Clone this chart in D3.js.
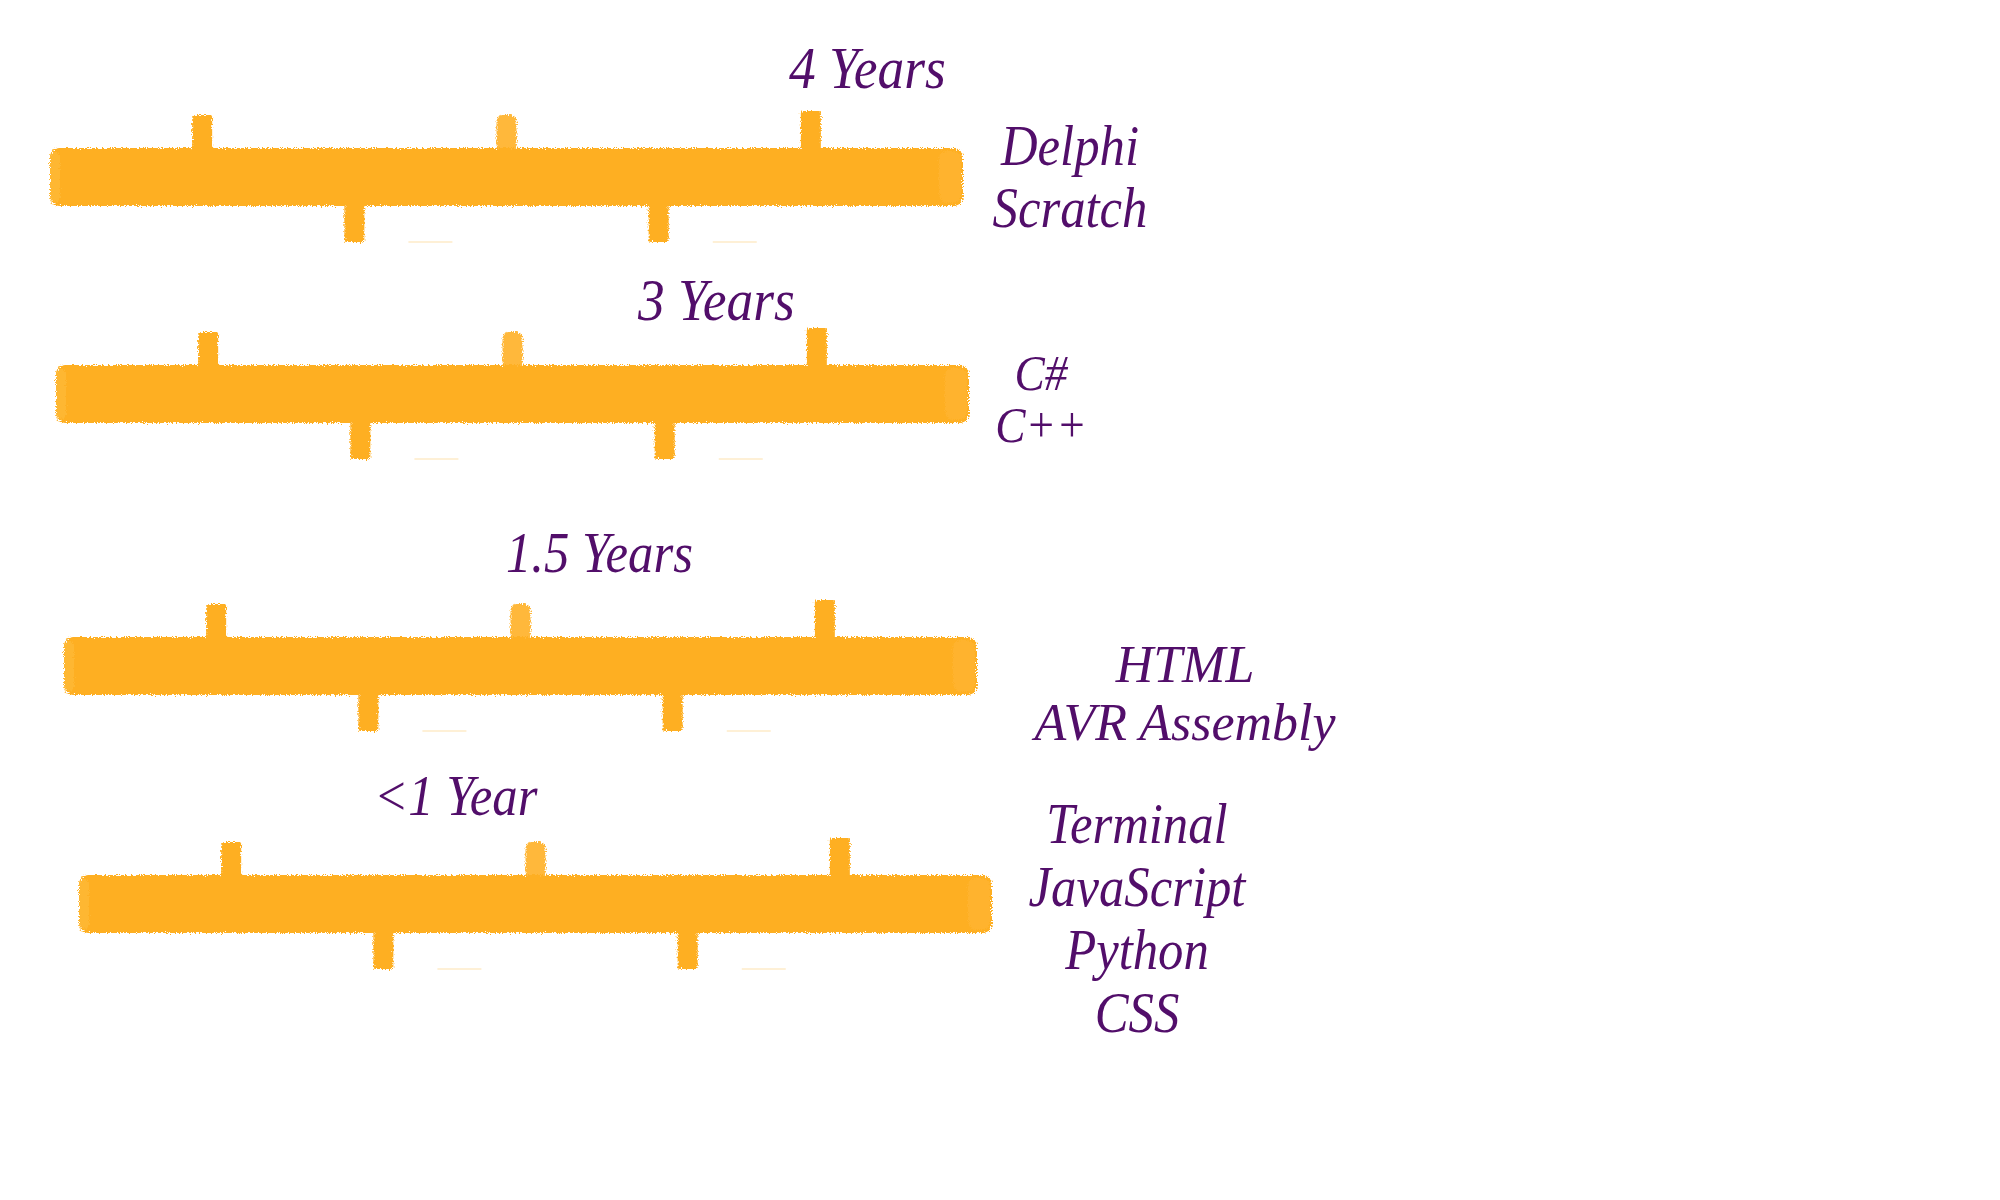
<!DOCTYPE html>
<html>
<head>
<meta charset="utf-8">
<script src="https://cdn.jsdelivr.net/npm/d3@7"></script>
<style>
  html, body { margin: 0; padding: 0; background: #ffffff; }
  svg { display: block; }
</style>
</head>
<body>
<svg id="chart" width="2000" height="1200"></svg>
<script>
// ---------- data ----------
const levels = ["4 Years", "3 Years", "1.5 Years", "<1 Year"];
const languages = [
  ["Delphi", "Scratch"],
  ["C#", "C++"],
  ["HTML", "AVR Assembly"],
  ["Terminal", "JavaScript", "Python", "CSS"]
];
const tickValues = [1, 2, 3, 4, 5];   // marks on each timeline (domain 0..6)
const scaleDomain = [0, 6];

// ---------- layout ----------
const W = 2000, H = 1200;
const barStart   = [50, 56, 64, 79];
const barCenterY = [177, 394, 666, 904];
const barLen = 913, barH = 58;
const yearLabelX = [789, 638, 506, 374];
const yearLabelY = [88, 320, 572, 815];
const yearSize   = [60, 60, 57, 57];
const langCenterX = [1070, 1041, 1185, 1137];
const langFirstY  = [165, 390, 682, 843];
const langStep    = [62, 52, 58, 63];
const langSize    = [57, 51, 52, 57];
const langSqueeze = [0.89, 0.89, 1.0, 0.89];
const orange = "#FEAF22", purple = "#520E6A";
const squeeze = 0.89;

const svg = d3.select("#chart");
svg.append("rect").attr("width", W).attr("height", H).attr("fill", "#fff");

// rough brush filter
const defs = svg.append("defs");
const f = defs.append("filter").attr("id", "rough")
  .attr("x", "-5%").attr("y", "-30%").attr("width", "110%").attr("height", "160%");
f.append("feTurbulence").attr("type", "fractalNoise").attr("baseFrequency", 0.8)
  .attr("numOctaves", 2).attr("seed", 3).attr("result", "noise");
f.append("feDisplacementMap").attr("in", "SourceGraphic").attr("in2", "noise")
  .attr("scale", 6).attr("xChannelSelector", "R").attr("yChannelSelector", "G");

const x = d3.scaleLinear().domain(scaleDomain).range([0, barLen]);

const groups = svg.selectAll("g.level").data(levels).join("g")
  .attr("class", "level")
  .attr("transform", (d, i) => `translate(${barStart[i]},${barCenterY[i]})`);

const marks = groups.append("g").attr("filter", "url(#rough)");

// ticks: odd up, even down
marks.selectAll("rect.tick").data(tickValues).join("rect")
  .attr("class", "tick")
  .attr("x", d => x(d) - 10)
  .attr("width", 20)
  .attr("y", (d, i) => i % 2 === 0 ? -barH / 2 - (i === 4 ? 37 : 33) : barH / 2 - 4)
  .attr("height", (d, i) => i % 2 === 0 ? (i === 4 ? 41 : 37) : 40)
  .attr("rx", (d, i) => i === 2 ? 6 : 2)
  .attr("fill", (d, i) => i === 2 ? "#FFB83A" : orange);

// main bar
marks.append("rect")
  .attr("x", x(scaleDomain[0]))
  .attr("width", x(scaleDomain[1]) - x(scaleDomain[0]))
  .attr("y", -barH / 2).attr("height", barH)
  .attr("rx", 9)
  .attr("fill", orange);

// lighter end caps
marks.append("rect")
  .attr("x", x(scaleDomain[0])).attr("width", 10)
  .attr("y", -barH / 2 + 4).attr("height", barH - 8).attr("rx", 5)
  .attr("fill", "#FFC04A").attr("opacity", 0.45);
marks.append("rect")
  .attr("x", x(scaleDomain[1]) - 24).attr("width", 22)
  .attr("y", -barH / 2 + 3).attr("height", barH - 6).attr("rx", 8)
  .attr("fill", "#FFB83A").attr("opacity", 0.5);

// faint scraps under bar
groups.selectAll("line.scrap").data([2.5, 4.5]).join("line")
  .attr("class", "scrap")
  .attr("x1", d => x(d) - 22).attr("x2", d => x(d) + 22)
  .attr("y1", barH / 2 + 36).attr("y2", barH / 2 + 36)
  .attr("stroke", orange).attr("stroke-width", 2).attr("opacity", 0.18);

// year labels
svg.selectAll("text.year").data(levels).join("text")
  .attr("class", "year")
  .attr("transform", (d, i) => `translate(${yearLabelX[i]},${yearLabelY[i]}) scale(${squeeze},1)`)
  .attr("font-family", "'Liberation Serif', 'DejaVu Serif', serif")
  .attr("font-style", "italic")
  .attr("font-size", (d, i) => yearSize[i])
  .attr("fill", purple)
  .text(d => d);

// language labels
levels.forEach((lv, i) => {
  svg.selectAll(`text.lang${i}`).data(languages[i]).join("text")
    .attr("class", `lang${i}`)
    .attr("transform", (d, j) => `translate(${langCenterX[i]},${langFirstY[i] + j * langStep[i]}) scale(${langSqueeze[i]},1)`)
    .attr("text-anchor", "middle")
    .attr("font-family", "'Liberation Serif', 'DejaVu Serif', serif")
    .attr("font-style", "italic")
    .attr("font-size", langSize[i])
    .attr("fill", purple)
    .text(d => d);
});
</script>
</body>
</html>
